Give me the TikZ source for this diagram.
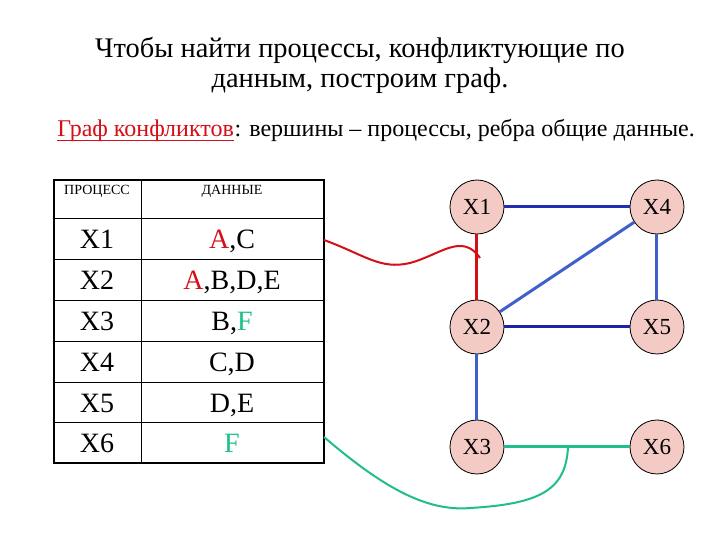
\documentclass[tikz,border=0pt]{standalone}
\usepackage{fontspec}
\setmainfont{Liberation Serif}
\usetikzlibrary{positioning}
\definecolor{nodepink}{HTML}{F4CAC4}
\definecolor{conflred}{HTML}{D50F17}
\definecolor{confgreen}{HTML}{1FBE8C}
\definecolor{edgeblue}{HTML}{3F5FCC}
\definecolor{darkblue}{HTML}{1E22A6}

\begin{document}
\begin{tikzpicture}[x=0.5pt,y=-0.5pt,
                   proc/.style={circle,draw,thin,fill=nodepink,minimum size=27pt,
                                inner sep=0pt,font=\fontsize{11.5}{12}\selectfont},
                   cell/.style={text height=9.2pt,text depth=0pt,inner sep=0pt,
                                font=\fontsize{14}{14}\selectfont},
                   head/.style={inner sep=0pt,font=\fontsize{7}{7}\selectfont},
                   sub/.style={inner sep=0pt,font=\fontsize{12}{13}\selectfont},
                   edge/.style={line width=1.5pt,edgeblue},
                   link/.style={line width=1pt}]
  \useasboundingbox (0,0) rectangle (720,540);
  \fill[white] (0,0) rectangle (720,540);

  \node[align=center,font=\fontsize{14.2}{15}\selectfont] (title) at (360,65)
    {Чтобы найти процессы, конфликтующие по\\данным, построим граф.};
  \node[sub,anchor=base west,text=conflred] (graf) at (57,137) {Граф конфликтов};
  \node[sub,anchor=base west] (sub) at (graf.base east)
    {: вершины – процессы, ребра общие данные.};
  \draw[conflred,line width=0.6pt] ([yshift=-1.6pt]graf.base west) -- ([yshift=-1.6pt]graf.base east);

  % table
  \draw[line width=1pt] (54,180) rectangle (324,463);
  \draw[thin] (141,180) -- (141,463);
  \foreach \y in {218,259,300,341,382,422}
    \draw[thin] (54,\y) -- (324,\y);
  \node[head] (hp) at (97,191) {ПРОЦЕСС};
  \node[head] (hd) at (232,191) {ДАННЫЕ};
  \foreach \p/\d [count=\i] in {X1/{\textcolor{conflred}{A},C},
                                X2/{\textcolor{conflred}{A},B,D,E},
                                X3/{B,\textcolor{confgreen}{F}},
                                X4/{C,D},
                                X5/{D,E},
                                X6/{\textcolor{confgreen}{F}}} {
    \node[cell] (p\i) at (97,{199+40.8*\i}) {\p};
    \node[cell] (d\i) at (232,{199+40.8*\i}) {\d};
  }

  % graph
  \node[proc] (x1) at (477,207) {X1};
  \node[proc] (x4) at (657,207) {X4};
  \node[proc] (x2) at (477,327) {X2};
  \node[proc] (x5) at (657,327) {X5};
  \node[proc] (x3) at (477,447) {X3};
  \node[proc] (x6) at (657,447) {X6};

  \draw[edge,darkblue!80!edgeblue] (x1) -- (x4);
  \draw[edge] (x4) -- (x5);
  \draw[edge] (x2) -- (x4);
  \draw[edge,darkblue] (x2) -- (x5);
  \draw[edge] (x2) -- (x3);
  \draw[edge,conflred] (x1) -- (x2);
  \draw[edge,confgreen] (x3) -- (x6);

  \coordinate (ta) at (324,240);
  \coordinate (tf) at (324,437);
  \coordinate (ea) at (480,258);
  \coordinate (ef) at (568,447);
  \draw[link,conflred] (ta) .. controls (365,255) and (380,270) .. (410,263)
                            .. controls (440,255) and (462,232) .. (ea);
  \draw[link,confgreen] (tf) .. controls (380,485) and (425,512) .. (470,508)
                             .. controls (540,504) and (566,490) .. (ef);
\end{tikzpicture}
\end{document}
